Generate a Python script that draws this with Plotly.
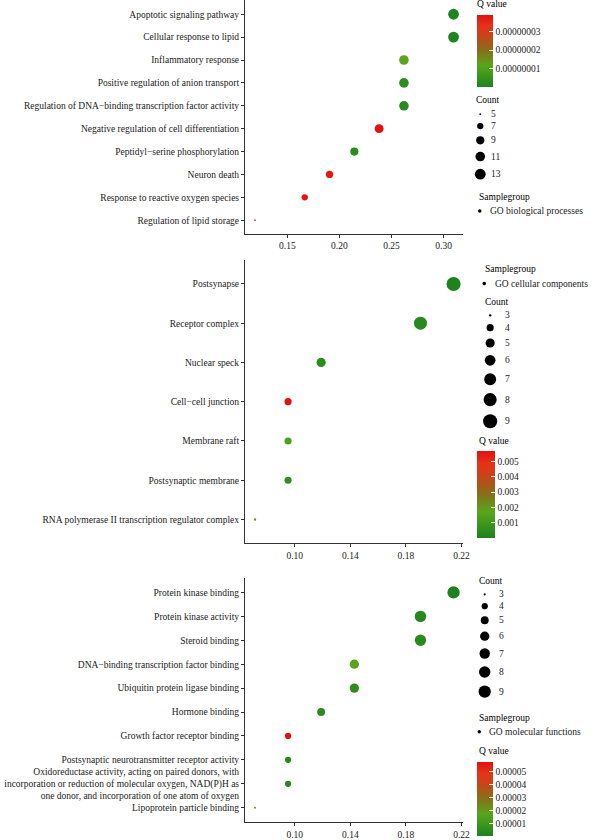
import numpy as np
import plotly.graph_objects as go

# ---------------- DATA ----------------
bp_terms = ["Apoptotic signaling pathway", "Cellular response to lipid", "Inflammatory response",
            "Positive regulation of anion transport",
            "Regulation of DNA\u2212binding transcription factor activity",
            "Negative regulation of cell differentiation", "Peptidyl\u2212serine phosphorylation",
            "Neuron death", "Response to reactive oxygen species", "Regulation of lipid storage"]
bp_count = [13, 13, 11, 11, 11, 10, 9, 8, 7, 5]
bp_ratio = [0.3095, 0.3095, 0.2619, 0.2619, 0.2619, 0.2381, 0.2143, 0.1905, 0.1667, 0.1190]
bp_q = [2e-10, 4e-10, 1.2e-8, 3e-9, 2.5e-9, 3.95e-8, 3e-9, 3.8e-8, 3.9e-8, 2.6e-8]

cc_terms = ["Postsynapse", "Receptor complex", "Nuclear speck", "Cell\u2212cell junction",
            "Membrane raft", "Postsynaptic membrane",
            "RNA polymerase II transcription regulator complex"]
cc_count = [9, 8, 5, 4, 4, 4, 3]
cc_ratio = [0.2143, 0.1905, 0.1190, 0.0952, 0.0952, 0.0952, 0.0714]
cc_q = [2e-5, 3e-4, 4e-4, 5.7e-3, 1.4e-3, 6e-4, 2.0e-3]

mf_terms = ["Protein kinase binding", "Protein kinase activity", "Steroid binding",
            "DNA\u2212binding transcription factor binding", "Ubiquitin protein ligase binding",
            "Hormone binding", "Growth factor receptor binding",
            "Postsynaptic neurotransmitter receptor activity",
            "Oxidoreductase activity, acting on paired donors, with<br>incorporation or reduction of molecular oxygen, NAD(P)H as<br>one donor, and incorporation of one atom of oxygen",
            "Lipoprotein particle binding"]
mf_count = [9, 8, 8, 6, 6, 5, 4, 4, 4, 3]
mf_ratio = [0.2143, 0.1905, 0.1905, 0.1429, 0.1429, 0.1190, 0.0952, 0.0952, 0.0952, 0.0714]
mf_q = [2e-7, 3e-6, 3.5e-6, 1.8e-5, 5e-6, 4e-6, 5.7e-5, 3e-6, 3e-6, 1.5e-5]

bp_xticks = [0.15, 0.20, 0.25, 0.30]
cc_xticks = [0.10, 0.14, 0.18, 0.22]
mf_xticks = [0.10, 0.14, 0.18, 0.22]

bp_qticks = [1e-8, 2e-8, 3e-8]
bp_qlabels = ["0.00000001", "0.00000002", "0.00000003"]
cc_qticks = [0.001, 0.002, 0.003, 0.004, 0.005]
cc_qlabels = ["0.001", "0.002", "0.003", "0.004", "0.005"]
mf_qticks = [1e-5, 2e-5, 3e-5, 4e-5, 5e-5]
mf_qlabels = ["0.00001", "0.00002", "0.00003", "0.00004", "0.00005"]

bp_breaks = [5, 7, 9, 11, 13]
cc_breaks = [3, 4, 5, 6, 7, 8, 9]
mf_breaks = [3, 4, 5, 6, 7, 8, 9]

bp_group = "GO biological processes"
cc_group = "GO cellular components"
mf_group = "GO molecular functions"

# ---------------- STYLE / LAYOUT ----------------
W, H = 594, 840
FONT = "Liberation Serif"
FS = 9.5
TXT = "#1a1a1a"
AX = "#333333"
COLORSCALE = [[0.0, "#1d831d"], [0.3, "#58a61b"], [0.5, "#85701a"],
              [0.7, "#c5461a"], [0.85, "#e6321a"], [1.0, "#e31010"]]

X0, X1 = 248, 469  # plot area left/right (px)

panels = [
    dict(terms=bp_terms, count=bp_count, ratio=bp_ratio, q=bp_q, xt=bp_xticks,
         qt=bp_qticks, ql=bp_qlabels, breaks=bp_breaks, group=bp_group,
         top=0.5, bottom=234.5, k=1.8,
         cb=dict(top=14.7, bot=86.7, thick=16, title_y=4.5, title_x=481),
         count_leg=dict(title_y=100.7, title_x=480, sym_x=486, lab_x=494.5),
         grp_leg=dict(title_y=197.3, title_x=483, sym_x=485.5, lab_x=494)),
    dict(terms=cc_terms, count=cc_count, ratio=cc_ratio, q=cc_q, xt=cc_xticks,
         qt=cc_qticks, ql=cc_qlabels, breaks=cc_breaks, group=cc_group,
         top=261, bottom=544.3, k=2.35,
         cb=dict(top=452, bot=539, thick=18, title_y=441.7, title_x=483),
         count_leg=dict(title_y=302.3, title_x=489, sym_x=496, lab_x=509),
         grp_leg=dict(title_y=270, title_x=488.5, sym_x=490, lab_x=499)),
    dict(terms=mf_terms, count=mf_count, ratio=mf_ratio, q=mf_q, xt=mf_xticks,
         qt=mf_qticks, ql=mf_qlabels, breaks=mf_breaks, group=mf_group,
         top=579.5, bottom=824, k=2.05,
         cb=dict(top=764, bot=838.3, thick=16, title_y=752.3, title_x=483),
         count_leg=dict(title_y=582, title_x=483, sym_x=490.5, lab_x=502.5),
         grp_leg=dict(title_y=719.3, title_x=483, sym_x=485, lab_x=492.5)),
]


def size_px(c, lo, hi, k):
    c = np.asarray(c, dtype=float)
    return k * (1 + 5 * np.sqrt((c - lo) / (hi - lo)))


fig = go.Figure()
annotations = []
layout_axes = {}

for i, p in enumerate(panels):
    n = i + 1
    xa = "x" if n == 1 else f"x{n}"
    ya = "y" if n == 1 else f"y{n}"
    lo, hi = min(p["count"]), max(p["count"])
    qmax = max(p["q"])
    cb = p["cb"]
    fig.add_trace(go.Scatter(
        x=p["ratio"], y=p["terms"], mode="markers", xaxis=xa, yaxis=ya,
        showlegend=False, cliponaxis=False,
        marker=dict(size=size_px(p["count"], lo, hi, p["k"]), sizemode="diameter",
                    color=p["q"], colorscale=COLORSCALE, cmin=0, cmax=qmax,
                    line=dict(width=0), opacity=1,
                    colorbar=dict(
                        x=482.3 / W, xanchor="left", xpad=0,
                        y=1 - (cb["top"] + cb["bot"]) / 2 / H, yanchor="middle", ypad=0,
                        lenmode="pixels", len=cb["bot"] - cb["top"],
                        thickness=cb["thick"], thicknessmode="pixels",
                        outlinewidth=0, ticks="inside", ticklen=4, tickcolor="white",
                        tickwidth=1, tickvals=p["qt"], ticktext=p["ql"],
                        tickfont=dict(family=FONT, size=FS, color=TXT)))))

    # axes
    xr = p["ratio"]
    span = max(xr) - min(xr)
    nn = len(p["terms"])
    common = dict(showline=True, linecolor=AX, linewidth=1.1, ticks="outside", ticklen=3,
                  tickcolor=AX, tickwidth=1, showgrid=False, zeroline=False,
                  tickfont=dict(family=FONT, size=FS, color=TXT), fixedrange=True)
    layout_axes["xaxis" if n == 1 else f"xaxis{n}"] = dict(
        domain=[X0 / W, X1 / W], anchor=ya,
        range=[min(xr) - 0.05 * span, max(xr) + 0.05 * span],
        tickvals=p["xt"], ticktext=[f"{v:.2f}" for v in p["xt"]], **common)
    layout_axes["yaxis" if n == 1 else f"yaxis{n}"] = dict(
        domain=[1 - p["bottom"] / H, 1 - p["top"] / H], anchor=xa,
        type="category", categoryorder="array", categoryarray=p["terms"],
        range=[nn - 0.4, -0.6], **common)

    # colorbar title
    annotations.append(dict(xref="x4", yref="y4", x=cb["title_x"], y=cb["title_y"],
                            text="Q value", showarrow=False, xanchor="left", yanchor="middle",
                            font=dict(family=FONT, size=FS, color="black")))

    # count legend
    cl = p["count_leg"]
    annotations.append(dict(xref="x4", yref="y4", x=cl["title_x"], y=cl["title_y"],
                            text="Count", showarrow=False, xanchor="left", yanchor="middle",
                            font=dict(family=FONT, size=FS, color="black")))
    d = size_px(p["breaks"], lo, hi, p["k"])
    keyh = np.maximum(10.5, 1.15 * d + 6)
    centers = [cl["title_y"] + 13.8]
    for j in range(1, len(d)):
        centers.append(centers[-1] + (keyh[j - 1] + keyh[j]) / 2)
    fig.add_trace(go.Scatter(x=[cl["sym_x"]] * len(d), y=centers, mode="markers",
                             xaxis="x4", yaxis="y4", showlegend=False, hoverinfo="skip",
                             cliponaxis=False,
                             marker=dict(size=d, color="#000000", opacity=1,
                                         line=dict(width=0))))
    for b, cy in zip(p["breaks"], centers):
        annotations.append(dict(xref="x4", yref="y4", x=cl["lab_x"], y=cy, text=str(b),
                                showarrow=False, xanchor="left", yanchor="middle",
                                font=dict(family=FONT, size=FS, color=TXT)))

    # sample group legend
    gl = p["grp_leg"]
    annotations.append(dict(xref="x4", yref="y4", x=gl["title_x"], y=gl["title_y"],
                            text="Samplegroup", showarrow=False, xanchor="left",
                            yanchor="middle", font=dict(family=FONT, size=FS, color="black")))
    fig.add_trace(go.Scatter(x=[gl["sym_x"]], y=[gl["title_y"] + 14.2], mode="markers",
                             xaxis="x4", yaxis="y4", showlegend=False, hoverinfo="skip",
                             cliponaxis=False,
                             marker=dict(size=3.5, color="#000000", opacity=1,
                                         line=dict(width=0))))
    annotations.append(dict(xref="x4", yref="y4", x=gl["lab_x"], y=gl["title_y"] + 14.2,
                            text=p["group"], showarrow=False, xanchor="left",
                            yanchor="middle", font=dict(family=FONT, size=FS, color=TXT)))

layout_axes["xaxis4"] = dict(domain=[0, 1], range=[0, W], visible=False, anchor="y4",
                             fixedrange=True)
layout_axes["yaxis4"] = dict(domain=[0, 1], range=[H, 0], visible=False, anchor="x4",
                             fixedrange=True)

fig.update_layout(width=W, height=H, margin=dict(l=0, r=0, t=0, b=0),
                  paper_bgcolor="white", plot_bgcolor="rgba(0,0,0,0)", showlegend=False,
                  font=dict(family=FONT, size=FS, color=TXT),
                  annotations=annotations, **layout_axes)

fig.write_html("out.html", config={"displayModeBar": False, "staticPlot": True},
               post_script="document.body.style.margin='0';document.body.style.overflow='hidden';")
